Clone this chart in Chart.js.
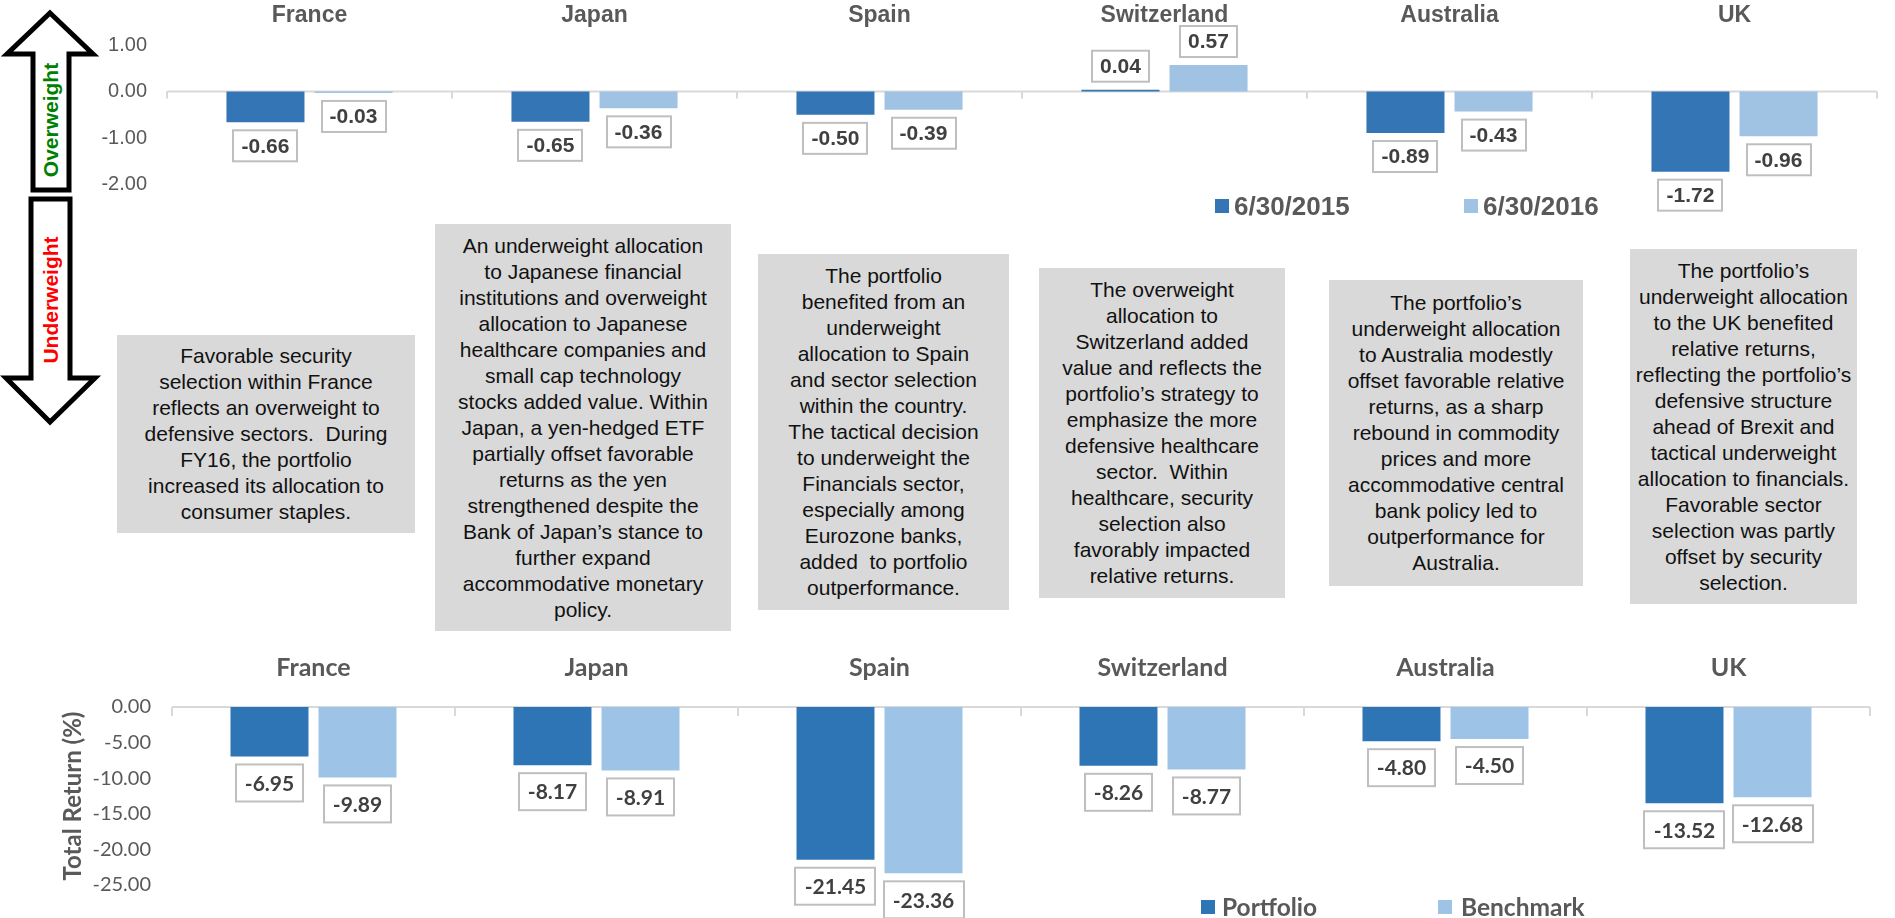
<!DOCTYPE html>
<html>
<head>
<meta charset="utf-8">
<script src="https://cdn.jsdelivr.net/npm/chart.js@4/dist/chart.umd.min.js"></script>
<style>
  html, body { margin: 0; padding: 0; background: #fff; }
  #page { position: relative; width: 1895px; height: 918px; overflow: hidden; }
  canvas { position: absolute; left: 0; }
  .note {
    position: absolute; background: #d9d9d9; color: #111;
    font: 21px "Liberation Sans", Arial, sans-serif; line-height: 26px;
    display: flex; align-items: center; justify-content: center;
    text-align: center; white-space: nowrap;
  }
  .lg { position: absolute; color: #595959; font-weight: bold; white-space: nowrap; }
  .sq { position: absolute; }
</style>
</head>
<body>
<div id="page">
  <svg width="110" height="440" style="position:absolute;left:0;top:0">
    <polygon points="50,13 93,54 69,54 69,190 33,190 33,54 7,54" fill="#fff" stroke="#000" stroke-width="5" stroke-linejoin="miter"/>
    <polygon points="31,199 70,199 70,378 95,378 50,422 6,378 31,378" fill="#fff" stroke="#000" stroke-width="5" stroke-linejoin="miter"/>
    <text x="0" y="0" transform="translate(58,120) rotate(-90)" text-anchor="middle" font-family="Liberation Sans, Arial" font-weight="bold" font-size="21" fill="#008000">Overweight</text>
    <text x="0" y="0" transform="translate(58,300) rotate(-90)" text-anchor="middle" font-family="Liberation Sans, Arial" font-weight="bold" font-size="21" fill="#ff0000">Underweight</text>
  </svg>

  <canvas id="topChart" width="1895" height="240" style="top:0;width:1895px;height:240px"></canvas>
  <canvas id="bottomChart" width="1895" height="298" style="top:620px;width:1895px;height:298px"></canvas>

  <div class="sq" style="left:1215px;top:199px;width:14px;height:14px;background:#3476b5"></div>
  <div class="lg" style="left:1234px;top:191px;font:bold 26px 'Liberation Sans',Arial;line-height:30px">6/30/2015</div>
  <div class="sq" style="left:1464px;top:199px;width:14px;height:14px;background:#a0c3e4"></div>
  <div class="lg" style="left:1483px;top:191px;font:bold 26px 'Liberation Sans',Arial;line-height:30px">6/30/2016</div>

  <div class="sq" style="left:1201px;top:900px;width:14px;height:14px;background:#2e75b6"></div>
  <div class="lg" style="left:1222px;top:892px;font:bold 24.5px Lato;line-height:30px">Portfolio</div>
  <div class="sq" style="left:1438px;top:900px;width:14px;height:14px;background:#9dc3e6"></div>
  <div class="lg" style="left:1461px;top:892px;font:bold 24.5px Lato;line-height:30px">Benchmark</div>

  <div class="note" style="left:117px;top:335px;width:298px;height:198px">Favorable security<br>selection within France<br>reflects an overweight to<br>defensive sectors.&nbsp; During<br>FY16, the portfolio<br>increased its allocation to<br>consumer staples.</div>
  <div class="note" style="left:435px;top:224px;width:296px;height:407px">An underweight allocation<br>to Japanese financial<br>institutions and overweight<br>allocation to Japanese<br>healthcare companies and<br>small cap technology<br>stocks added value. Within<br>Japan, a yen-hedged ETF<br>partially offset favorable<br>returns as the yen<br>strengthened despite the<br>Bank of Japan’s stance to<br>further expand<br>accommodative monetary<br>policy.</div>
  <div class="note" style="left:758px;top:254px;width:251px;height:356px">The portfolio<br>benefited from an<br>underweight<br>allocation to Spain<br>and sector selection<br>within the country.<br>The tactical decision<br>to underweight the<br>Financials sector,<br>especially among<br>Eurozone banks,<br>added&nbsp; to portfolio<br>outperformance.</div>
  <div class="note" style="left:1039px;top:268px;width:246px;height:330px">The overweight<br>allocation to<br>Switzerland added<br>value and reflects the<br>portfolio’s strategy to<br>emphasize the more<br>defensive healthcare<br>sector.&nbsp; Within<br>healthcare, security<br>selection also<br>favorably impacted<br>relative returns.</div>
  <div class="note" style="left:1329px;top:280px;width:254px;height:306px">The portfolio’s<br>underweight allocation<br>to Australia modestly<br>offset favorable relative<br>returns, as a sharp<br>rebound in commodity<br>prices and more<br>accommodative central<br>bank policy led to<br>outperformance for<br>Australia.</div>
  <div class="note" style="left:1630px;top:249px;width:227px;height:355px">The portfolio’s<br>underweight allocation<br>to the UK benefited<br>relative returns,<br>reflecting the portfolio’s<br>defensive structure<br>ahead of Brexit and<br>tactical underweight<br>allocation to financials.<br>Favorable sector<br>selection was partly<br>offset by security<br>selection.</div>
</div>

<script>
const countries = ['France', 'Japan', 'Spain', 'Switzerland', 'Australia', 'UK'];

// active weight vs benchmark (%)
const weight2015 = [-0.66, -0.65, -0.50, 0.04, -0.89, -1.72];
const weight2016 = [-0.03, -0.36, -0.39, 0.57, -0.43, -0.96];
const topTicks = [1, 0, -1, -2];

// total return (%)
const portfolioReturn = [-6.95, -8.17, -21.45, -8.26, -4.80, -13.52];
const benchmarkReturn = [-9.89, -8.91, -23.36, -8.77, -4.50, -12.68];
const bottomTicks = [0, -5, -10, -15, -20, -25];

// zero line with small separators between the countries
const zeroLine = {
    id: 'zeroLine',
    beforeDatasetsDraw(chart, args, opts) {
        const {ctx, scales: {x, y}} = chart;
        const y0 = y.getPixelForValue(0);
        const n = chart.data.labels.length;
        ctx.save();
        ctx.strokeStyle = opts.color;
        ctx.lineWidth = 2;
        ctx.beginPath();
        ctx.moveTo(x.left, y0);
        ctx.lineTo(x.right, y0);
        for (let i = 0; i <= n; i++) {
            const px = x.left + (x.right - x.left) * i / n;
            ctx.moveTo(px, y0);
            ctx.lineTo(px, y0 + opts.tick);
        }
        ctx.stroke();
        ctx.restore();
    }
};

// boxed value labels at the end of each bar
const boxLabels = {
    id: 'boxLabels',
    afterDatasetsDraw(chart, args, opts) {
        const {ctx} = chart;
        ctx.save();
        ctx.font = opts.font;
        ctx.textAlign = 'center';
        ctx.textBaseline = 'middle';
        chart.data.datasets.forEach((ds, di) => {
            chart.getDatasetMeta(di).data.forEach((bar, i) => {
                const v = ds.data[i];
                const text = v.toFixed(2);
                const w = Math.round(ctx.measureText(text).width + opts.padX * 2);
                const h = opts.height;
                const top = v < 0 ? bar.y + opts.gap : bar.y - opts.gap - h;
                const left = Math.round(bar.x - w / 2);
                ctx.fillStyle = '#fff';
                ctx.fillRect(left, top, w, h);
                ctx.strokeStyle = '#bfbfbf';
                ctx.lineWidth = 2;
                ctx.strokeRect(left, top, w, h);
                ctx.fillStyle = '#404040';
                ctx.fillText(text, bar.x, top + h / 2 + 1);
            });
        });
        ctx.restore();
    }
};

const topConfig = {
    type: 'bar',
    data: {
        labels: countries,
        datasets: [
            { label: '6/30/2015', data: weight2015, backgroundColor: '#3476b5' },
            { label: '6/30/2016', data: weight2016, backgroundColor: '#a0c3e4' }
        ]
    },
    options: {
        responsive: false,
        animation: false,
        datasets: { bar: { categoryPercentage: 0.618, barPercentage: 0.886 } },
        layout: { padding: { left: 0, right: 18, top: 0, bottom: 27 } },
        plugins: {
            legend: { display: false },
            tooltip: { enabled: false },
            zeroLine: { color: '#d9d9d9', tick: 7 },
            boxLabels: { font: 'bold 21px "Liberation Sans", Arial', padX: 8, height: 31, gap: 8 }
        },
        scales: {
            x: {
                position: 'top',
                grid: { display: false, drawTicks: false },
                border: { display: false },
                ticks: {
                    color: '#595959',
                    padding: 16,
                    font: { family: '"Liberation Sans", Arial', size: 23, weight: 'bold' }
                },
                afterFit(scale) { scale.height = 45; }
            },
            y: {
                min: -2.5,
                max: 1,
                grid: { display: false, drawTicks: false },
                border: { display: false },
                afterBuildTicks(scale) { scale.ticks = topTicks.map(v => ({ value: v })); },
                ticks: {
                    color: '#595959',
                    padding: 20,
                    font: { family: '"Liberation Sans", Arial', size: 20 },
                    callback: v => v.toFixed(2)
                },
                afterFit(scale) { scale.width = 167; }
            }
        }
    },
    plugins: [zeroLine, boxLabels]
};

const bottomConfig = {
    type: 'bar',
    data: {
        labels: countries,
        datasets: [
            { label: 'Portfolio', data: portfolioReturn, backgroundColor: '#2e75b6' },
            { label: 'Benchmark', data: benchmarkReturn, backgroundColor: '#9dc3e6' }
        ]
    },
    options: {
        responsive: false,
        animation: false,
        datasets: { bar: { categoryPercentage: 0.622, barPercentage: 0.886 } },
        layout: { padding: { left: 55, right: 25, top: 0, bottom: 31 } },
        plugins: {
            legend: { display: false },
            tooltip: { enabled: false },
            zeroLine: { color: '#d9d9d9', tick: 9 },
            boxLabels: { font: 'bold 21px Lato', padX: 9, height: 37, gap: 8 }
        },
        scales: {
            x: {
                position: 'top',
                grid: { display: false, drawTicks: false },
                border: { display: false },
                ticks: {
                    color: '#595959',
                    padding: 24,
                    font: { family: 'Lato', size: 25, weight: 'bold' }
                },
                afterFit(scale) { scale.height = 87; }
            },
            y: {
                min: -25,
                max: 0,
                grid: { display: false, drawTicks: false },
                border: { display: false },
                afterBuildTicks(scale) { scale.ticks = bottomTicks.map(v => ({ value: v })); },
                title: {
                    display: true,
                    text: 'Total Return (%)',
                    color: '#595959',
                    font: { family: 'Lato', size: 24, weight: 'bold' }
                },
                ticks: {
                    color: '#595959',
                    padding: 21,
                    font: { family: 'Lato', size: 20 },
                    callback: v => v.toFixed(2)
                },
                afterFit(scale) { scale.width = 117; }
            }
        }
    },
    plugins: [zeroLine, boxLabels]
};

new Chart(document.getElementById('topChart'), topConfig);
new Chart(document.getElementById('bottomChart'), bottomConfig);
</script>
</body>
</html>
